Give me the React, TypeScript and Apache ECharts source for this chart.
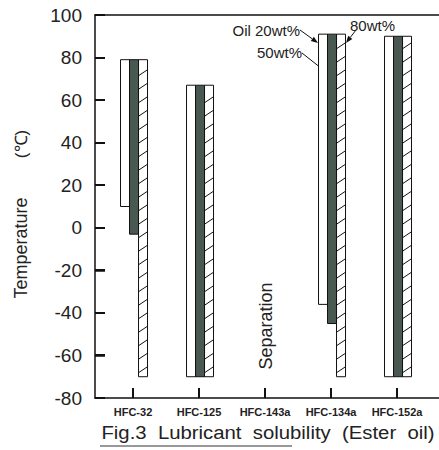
import React, { useEffect, useRef } from "react";
import * as echarts from "echarts";

const categories = ["HFC-32", "HFC-125", "HFC-143a", "HFC-134a", "HFC-152a"];
// [categoryIndex, low, high] in °C
const oil20: number[][] = [
  [0, 10, 79],
  [1, -70, 67],
  [3, -36, 91],
  [4, -70, 90],
];
const oil50: number[][] = [
  [0, -3, 79],
  [1, -70, 67],
  [3, -45, 91],
  [4, -70, 90],
];
const oil80: number[][] = [
  [0, -70, 79],
  [1, -70, 67],
  [3, -70, 91],
  [4, -70, 90],
];
const yTickValues = [-80, -60, -40, -20, 0, 20, 40, 60, 80, 100];
const yTicks = { min: -80, max: 100, interval: 20 };

const FONT = "'Liberation Sans', Arial, Helvetica, sans-serif";
const BAR_W = 9;
const GRID = { left: 95, right: 0, top: 15, bottom: 52 };
const W = 439;
const H = 450;

function makeRender(slot: number, kind: "white" | "dark" | "hatch") {
  return (params: any, api: any) => {
    const cat = api.value(0);
    const low = api.value(1);
    const high = api.value(2);
    const pTop = api.coord([cat, high]);
    const pBot = api.coord([cat, low]);
    const x = pTop[0] + (slot - 1.5) * BAR_W + 1;
    const yTop = pTop[1];
    const h = pBot[1] - pTop[1];
    const children: any[] = [
      {
        type: "rect",
        shape: { x, y: yTop, width: BAR_W, height: h },
        style: {
          fill: kind === "dark" ? "#4a5852" : "#ffffff",
          stroke: "#111",
          lineWidth: 1,
        },
      },
    ];
    if (kind === "hatch") {
      const step = 13.5;
      const rise = 6;
      for (let y = pBot[1] - 4; y - rise > yTop + 1; y -= step) {
        children.push({
          type: "line",
          shape: { x1: x, y1: y, x2: x + BAR_W, y2: y - rise },
          style: { stroke: "#111", lineWidth: 1 },
        });
      }
    }
    return { type: "group", children };
  };
}

function arrow(x1: number, y1: number, x2: number, y2: number) {
  const ang = Math.atan2(y2 - y1, x2 - x1);
  const L = 7;
  const Wd = 2.6;
  const bx = x2 - L * Math.cos(ang);
  const by = y2 - L * Math.sin(ang);
  const px = -Math.sin(ang) * Wd;
  const py = Math.cos(ang) * Wd;
  return [
    {
      type: "line",
      shape: { x1, y1, x2: bx, y2: by },
      style: { stroke: "#111", lineWidth: 1 },
    },
    {
      type: "polygon",
      shape: {
        points: [
          [x2, y2],
          [bx + px, by + py],
          [bx - px, by - py],
        ],
      },
      style: { fill: "#111" },
    },
  ];
}

export default function App() {
  const ref = useRef<HTMLDivElement>(null);
  useEffect(() => {
    if (!ref.current) return;
    const chart = echarts.init(ref.current, null, { renderer: "svg" });
    const xMin = -0.576;
    const xMax = 4.636;
    const plotW = W - GRID.left - GRID.right;
    const plotH = H - GRID.top - GRID.bottom;
    const yPx = (v: number) => GRID.top + ((yTicks.max - v) / (yTicks.max - yTicks.min)) * plotH;
    const xPx = (v: number) => GRID.left + ((v - xMin) / (xMax - xMin)) * plotW;
    const tickGraphics: any[] = [
      ...yTickValues.map((v) => ({
        type: "rect",
        z: 100,
        shape: { x: GRID.left, y: Math.round(yPx(v)) - 1, width: 10, height: 2 },
        style: { fill: "#111" },
      })),
      ...categories.map((_, i) => ({
        type: "rect",
        z: 100,
        shape: { x: Math.round(xPx(i)) - 1, y: H - GRID.bottom - 10, width: 2, height: 10 },
        style: { fill: "#111" },
      })),
    ];
    const option: any = {
      animation: false,
      backgroundColor: "#ffffff",
      grid: GRID,
      xAxis: [
        {
          type: "value",
          min: xMin,
          max: xMax,
          splitLine: { show: false },
          axisLine: { show: true, onZero: false, lineStyle: { color: "#111", width: 1.5 } },
          axisTick: {
            show: true,
            inside: true,
            length: 10,
            customValues: [0, 1, 2, 3, 4],
            lineStyle: { color: "#111", width: 1.5 },
          },
          axisLabel: {
            customValues: [0, 1, 2, 3, 4],
            formatter: (v: number) => categories[Math.round(v)] ?? "",
            fontFamily: FONT,
            fontSize: 11,
            fontWeight: "bold",
            color: "#222",
            margin: 8,
          },
        },
        {
          type: "value",
          position: "top",
          min: xMin,
          max: xMax,
          splitLine: { show: false },
          axisLine: { show: true, onZero: false, lineStyle: { color: "#111", width: 1.5 } },
          axisTick: { show: false },
          axisLabel: { show: false },
        },
      ],
      yAxis: {
        type: "value",
        min: yTicks.min,
        max: yTicks.max,
        interval: yTicks.interval,
        splitLine: { show: false },
        axisLine: { show: true, onZero: false, lineStyle: { color: "#111", width: 1.5 } },
        axisTick: { show: true, inside: true, length: 10, lineStyle: { color: "#111", width: 1.5 } },
        axisLabel: { fontFamily: FONT, fontSize: 19, color: "#222", margin: 13 },
      },
      series: [
        {
          name: "Oil 20wt%",
          type: "custom",
          renderItem: makeRender(0, "white"),
          encode: { x: 0, y: [1, 2] },
          data: oil20,
          z: 3,
        },
        {
          name: "50wt%",
          type: "custom",
          renderItem: makeRender(1, "dark"),
          encode: { x: 0, y: [1, 2] },
          data: oil50,
          z: 4,
        },
        {
          name: "80wt%",
          type: "custom",
          renderItem: makeRender(2, "hatch"),
          encode: { x: 0, y: [1, 2] },
          data: oil80,
          z: 3,
        },
      ],
      graphic: [
        ...tickGraphics,
        {
          type: "text",
          x: 21,
          y: 248,
          rotation: Math.PI / 2,
          style: {
            text: "Temperature",
            fontFamily: FONT,
            fontSize: 18,
            fill: "#222",
            align: "center",
            verticalAlign: "middle",
          },
        },
        {
          type: "text",
          x: 21,
          y: 144,
          rotation: Math.PI / 2,
          style: {
            text: "(℃)",
            fontFamily: FONT,
            fontSize: 17,
            fill: "#222",
            align: "center",
            verticalAlign: "middle",
          },
        },
        {
          type: "text",
          x: 266,
          y: 326,
          rotation: Math.PI / 2,
          style: {
            text: "Separation",
            fontFamily: FONT,
            fontSize: 18,
            fill: "#222",
            align: "center",
            verticalAlign: "middle",
          },
        },
        {
          type: "text",
          x: 300,
          y: 30,
          style: {
            text: "Oil 20wt%",
            fontFamily: FONT,
            fontSize: 15,
            fill: "#222",
            align: "right",
            verticalAlign: "middle",
          },
        },
        {
          type: "text",
          x: 302,
          y: 52,
          style: {
            text: "50wt%",
            fontFamily: FONT,
            fontSize: 15,
            fill: "#222",
            align: "right",
            verticalAlign: "middle",
          },
        },
        {
          type: "text",
          x: 350,
          y: 25,
          style: {
            text: "80wt%",
            fontFamily: FONT,
            fontSize: 15,
            fill: "#222",
            align: "left",
            verticalAlign: "middle",
          },
        },
        ...arrow(300, 30, 318, 43),
        ...arrow(302, 53, 326, 72),
        ...arrow(356, 30, 346, 43),
        {
          type: "text",
          x: 268,
          y: 433,
          scaleX: 1.13,
          style: {
            text: "Fig.3  Lubricant  solubility  (Ester  oil)",
            fontFamily: FONT,
            fontSize: 18,
            fill: "#222",
            align: "center",
            verticalAlign: "middle",
          },
        },
        {
          type: "line",
          shape: { x1: 100, y1: 446, x2: 292, y2: 446 },
          style: { stroke: "#333", lineWidth: 1 },
        },
      ],
    };
    chart.setOption(option);
    return () => chart.dispose();
  }, []);
  return <div ref={ref} style={{ width: W, height: H, position: "absolute", left: 0, top: 0 }} />;
}
